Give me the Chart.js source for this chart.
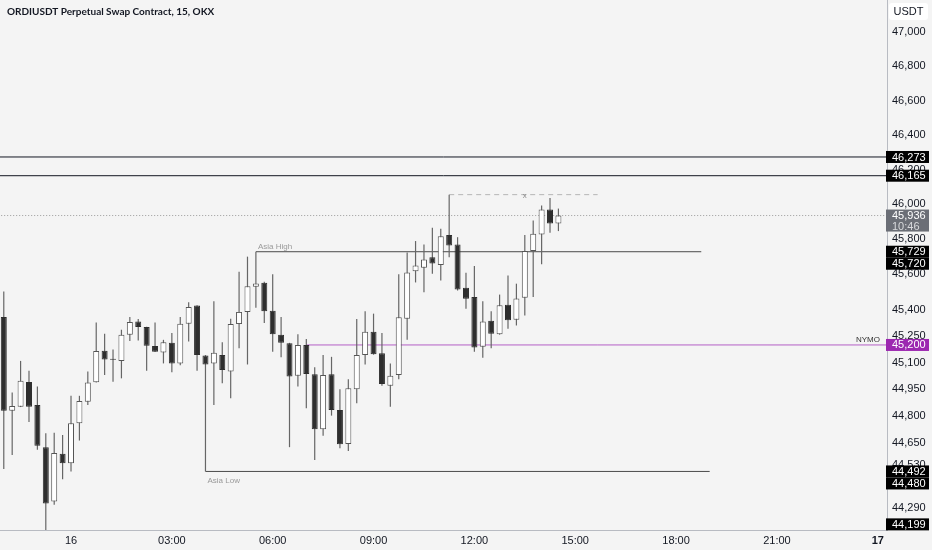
<!DOCTYPE html>
<html>
<head>
<meta charset="utf-8">
<script src="https://cdn.jsdelivr.net/npm/chart.js@4.4.1/dist/chart.umd.min.js"></script>
<style>
  html, body { margin: 0; padding: 0; background: #f4f4f4; }
  #wrap { position: relative; width: 932px; height: 550px; }
  canvas { display: block; }
</style>
</head>
<body>
<div id="wrap"><canvas id="c" width="932" height="550"></canvas></div>
<script>
// ---------------- DATA ----------------
const chartTitle = 'ORDIUSDT Perpetual Swap Contract, 15, OKX';
const currency = 'USDT';

const candleTimes = [
  '15 22:00','15 22:15','15 22:30','15 22:45','15 23:00','15 23:15','15 23:30','15 23:45',
  '16 00:00','16 00:15','16 00:30','16 00:45','16 01:00','16 01:15','16 01:30','16 01:45',
  '16 02:00','16 02:15','16 02:30','16 02:45','16 03:00','16 03:15','16 03:30','16 03:45',
  '16 04:00','16 04:15','16 04:30','16 04:45','16 05:00','16 05:15','16 05:30','16 05:45',
  '16 06:00','16 06:15','16 06:30','16 06:45','16 07:00','16 07:15','16 07:30','16 07:45',
  '16 08:00','16 08:15','16 08:30','16 08:45','16 09:00','16 09:15','16 09:30','16 09:45',
  '16 10:00','16 10:15','16 10:30','16 10:45','16 11:00','16 11:15','16 11:30','16 11:45',
  '16 12:00','16 12:15','16 12:30','16 12:45','16 13:00','16 13:15','16 13:30','16 13:45',
  '16 14:00','16 14:15','16 14:30'
];
const opens = [
  45358,44831,44853,44992,44862,44627,44325,44590,44538,44761,44881,44990,45167,45118,45110,45257,
  45333,45301,45194,45158,45213,45096,45320,45423,45141,45096,45143,45050,45318,45387,45529,45552,
  45394,45257,45210,45026,45200,45035,44727,45035,44835,44645,44951,45143,45274,45153,44971,45031,
  45348,45618,45638,45698,45653,45824,45771,45524,45472,45190,45337,45261,45428,45343,45467,45733,
  45828,45971,45891
];
const highs = [
  45503,44933,45110,45054,44966,44705,44707,44695,44914,44914,45050,45327,45263,45175,45286,45358,
  45347,45303,45327,45229,45267,45358,45441,45425,45143,45447,45215,45348,45615,45701,45729,45558,
  45600,45358,45212,45261,45234,45074,45143,45133,44951,45007,45347,45390,45377,45267,45096,45600,
  45725,45790,45771,45866,45860,46056,45812,45609,45647,45447,45390,45485,45594,45547,45824,45908,
  45993,46037,45976
];
const lows = [
  44505,44584,44851,44767,44612,44160,44307,44448,44491,44664,44863,44988,45031,44993,45012,45223,
  45225,45055,45160,45096,45046,45086,45219,45055,44492,44863,44984,44901,45181,45090,45410,45324,
  45162,45130,44627,44966,44845,44556,44691,44803,44621,44606,44872,45090,45145,44971,44853,45007,
  45229,45554,45499,45604,45565,45698,45508,45405,45162,45128,45181,45258,45291,45310,45367,45472,
  45657,45838,45847
];
const closes = [
  44831,44857,44998,44853,44635,44315,44594,44538,44761,44885,44988,45166,45118,45116,45257,45330,
  45301,45196,45162,45215,45096,45320,45415,45143,45090,45156,45059,45318,45387,45533,45548,45390,
  45261,45213,45022,45200,45036,44727,45031,44835,44643,44957,45143,45274,45147,44980,45027,45356,
  45611,45651,45685,45662,45818,45765,45514,45461,45185,45333,45263,45424,45339,45463,45733,45832,
  45971,45891,45936
];

const yTicks = [47000,46800,46600,46400,46200,46000,45800,45600,45400,45250,45100,44950,44800,44650,44530,44290];
const xTickLabels = ['16','03:00','06:00','09:00','12:00','15:00','18:00','21:00','17'];

// drawn levels
const fullLevels = [46273, 46165];
const asiaHigh = { price: 45729, from: '16 05:30', to: '16 18:45', label: 'Asia High' };
const asiaLow  = { price: 44492, from: '16 04:00', to: '16 19:00', label: 'Asia Low' };
const nymo     = { price: 45200, from: '16 07:00', label: 'NYMO' };
const swingHigh = { price: 46056, from: '16 11:15', to: '16 15:40', mark: '16 13:30' };
const lastPrice = 45936;
const countdown = '10:46';
const priceTags = [46273, 46165, 45936, 45729, 45720, 45200, 44492, 44480, 44199];

// ---------------- HELPERS ----------------
function slotOf(t) {            // 15-minute slot index relative to 16th 00:00
  const [d, hm] = t.split(' ');
  const [h, m] = hm.split(':').map(Number);
  return ((+d - 16) * 1440 + h * 60 + m) / 15;
}
function tickSlot(lbl) {
  if (lbl === '16') return 0;
  if (lbl === '17') return 96;
  return Number(lbl.split(':')[0]) * 4;
}
const fmt = v => v.toLocaleString('en-US');

const bodyData = candleTimes.map((t, i) => ({ x: slotOf(t), y: [opens[i], closes[i]] }));
const wickData = candleTimes.map((t, i) => ({ x: slotOf(t), y: [lows[i], highs[i]] }));
const isUp = i => closes[i] >= opens[i];

const X_MIN = -8.45, X_MAX = 97.1;
function hLine(price, from, to, color, dash) {
  return {
    type: 'line',
    data: [{ x: from, y: price }, { x: to, y: price }],
    borderColor: color, borderWidth: 1, borderDash: dash || [],
    pointRadius: 0, pointHoverRadius: 0, tension: 0, order: 5, fill: false
  };
}

// ---------------- PLUGINS ----------------
const bgPlugin = {
  id: 'bg',
  beforeDraw(chart) {
    const c = chart.ctx;
    c.save(); c.fillStyle = '#f4f4f4'; c.fillRect(0, 0, chart.width, chart.height); c.restore();
  }
};

const overlayPlugin = {
  id: 'overlay',
  afterDraw(chart) {
    const c = chart.ctx, xs = chart.scales.x, ys = chart.scales.y, ca = chart.chartArea;
    c.save();
    // title
    c.fillStyle = '#131722';
    c.font = 'bold 10px Lato, sans-serif';
    c.textBaseline = 'middle'; c.textAlign = 'left';
    c.fillText(chartTitle, 7, 12);

    // drawing labels
    c.font = '8px "Liberation Sans", sans-serif';
    c.fillStyle = '#9a9a9a';
    c.textBaseline = 'alphabetic';
    c.fillText(asiaHigh.label, xs.getPixelForValue(slotOf(asiaHigh.from)) + 2, ys.getPixelForValue(asiaHigh.price) - 3);
    c.fillText(asiaLow.label, xs.getPixelForValue(slotOf(asiaLow.from)) + 2, ys.getPixelForValue(asiaLow.price) + 12);
    c.fillStyle = '#333';
    c.textAlign = 'right';
    c.fillText(nymo.label, ca.right - 7, ys.getPixelForValue(nymo.price) - 3);
    c.fillStyle = '#888';
    c.textAlign = 'center'; c.textBaseline = 'middle';
    c.fillText('x', xs.getPixelForValue(slotOf(swingHigh.mark)), ys.getPixelForValue(swingHigh.price) + 1);

    // USDT box
    c.fillStyle = '#ffffff';
    c.beginPath();
    if (c.roundRect) c.roundRect(889, 3, 39, 17, 3); else c.rect(889, 3, 39, 17);
    c.fill();
    c.fillStyle = '#131722';
    c.font = '11px "Liberation Sans", sans-serif';
    c.textAlign = 'center'; c.textBaseline = 'middle';
    c.fillText(currency, 908.5, 12);

    // price tags
    const tags = priceTags.slice().sort((a, b) => b - a);
    let prevBottom = -Infinity;
    const bx = ca.right - 1, bw = 932 - bx - 3;
    tags.forEach(v => {
      const isLast = v === lastPrice;
      const h = isLast ? 22 : 12;
      let top = ys.getPixelForValue(v) - 6;
      if (top < prevBottom) top = prevBottom;
      prevBottom = top + h;
      let bg = '#000000';
      if (isLast) bg = '#6b6e76';
      if (v === nymo.price) bg = '#9c27b0';
      c.fillStyle = bg;
      c.fillRect(bx, top, bw, h);
      c.fillStyle = '#ffffff';
      c.font = '11px "Liberation Sans", sans-serif';
      c.textAlign = 'left'; c.textBaseline = 'middle';
      c.fillText(fmt(v), ca.right + 5, top + 6.5);
      if (isLast) {
        c.fillStyle = '#d8d9dc';
        c.fillText(countdown, ca.right + 5, top + 17);
      }
    });
    c.restore();
  }
};

// ---------------- CHART ----------------
const datasets = [
  {
    type: 'bar', label: 'body', data: bodyData, grouped: false, order: 0,
    maxBarThickness: 6, minBarLength: 1, borderSkipped: false, borderWidth: 1,
    backgroundColor: ctx => isUp(ctx.dataIndex) ? '#ffffff' : '#2e2e2e',
    borderColor: ctx => isUp(ctx.dataIndex) ? '#555555' : '#2e2e2e'
  },
  {
    type: 'bar', label: 'wick', data: wickData, grouped: false, order: 1,
    maxBarThickness: 1.2, borderWidth: 0, backgroundColor: '#666666'
  },
  ...fullLevels.map(p => hLine(p, X_MIN - 2, X_MAX + 2, '#131722')),
  hLine(lastPrice, X_MIN - 2, X_MAX + 2, '#9a9a9a', [1, 2]),
  hLine(asiaHigh.price, slotOf(asiaHigh.from), slotOf(asiaHigh.to), '#4a4a4a'),
  hLine(asiaLow.price, slotOf(asiaLow.from), slotOf(asiaLow.to), '#4a4a4a'),
  hLine(nymo.price, slotOf(nymo.from), X_MAX + 2, '#b45fc6'),
  hLine(swingHigh.price, slotOf(swingHigh.from), slotOf(swingHigh.to), '#b5b5b5', [5, 4])
];

new Chart(document.getElementById('c'), {
  type: 'bar',
  data: { datasets },
  plugins: [bgPlugin, overlayPlugin],
  options: {
    responsive: false,
    animation: false,
    events: [],
    layout: { padding: 0 },
    plugins: { legend: { display: false }, tooltip: { enabled: false }, title: { display: false } },
    scales: {
      x: {
        type: 'linear', min: X_MIN, max: X_MAX, bounds: 'data', offset: false,
        grid: { display: false, drawTicks: false },
        border: { display: true, color: '#b8bbc2', width: 1 },
        afterBuildTicks: s => { s.ticks = xTickLabels.map(l => ({ value: tickSlot(l) })); },
        afterFit: s => { s.height = 20; s.paddingLeft = 0; s.paddingRight = 0; },
        ticks: {
          autoSkip: false, maxRotation: 0, padding: 4, color: '#131722',
          font: ctx => ({ family: '"Liberation Sans", sans-serif', size: 11,
                          weight: (ctx.tick && ctx.tick.value === 96) ? 'bold' : 'normal' }),
          callback: v => { const i = xTickLabels.findIndex(l => tickSlot(l) === v); return i >= 0 ? xTickLabels[i] : ''; }
        }
      },
      y: {
        type: 'logarithmic', position: 'right', min: 44168, max: 47188.6, bounds: 'data',
        grid: { display: false, drawTicks: false },
        border: { display: true, color: '#b8bbc2', width: 1 },
        afterBuildTicks: s => { s.ticks = yTicks.slice().reverse().map(v => ({ value: v })); },
        afterFit: s => { s.width = 45; s.paddingTop = 0; s.paddingBottom = 0; },
        ticks: {
          autoSkip: false, padding: 5, color: '#131722',
          font: { family: '"Liberation Sans", sans-serif', size: 11 },
          callback: v => fmt(v)
        }
      }
    }
  }
});
</script>
</body>
</html>
